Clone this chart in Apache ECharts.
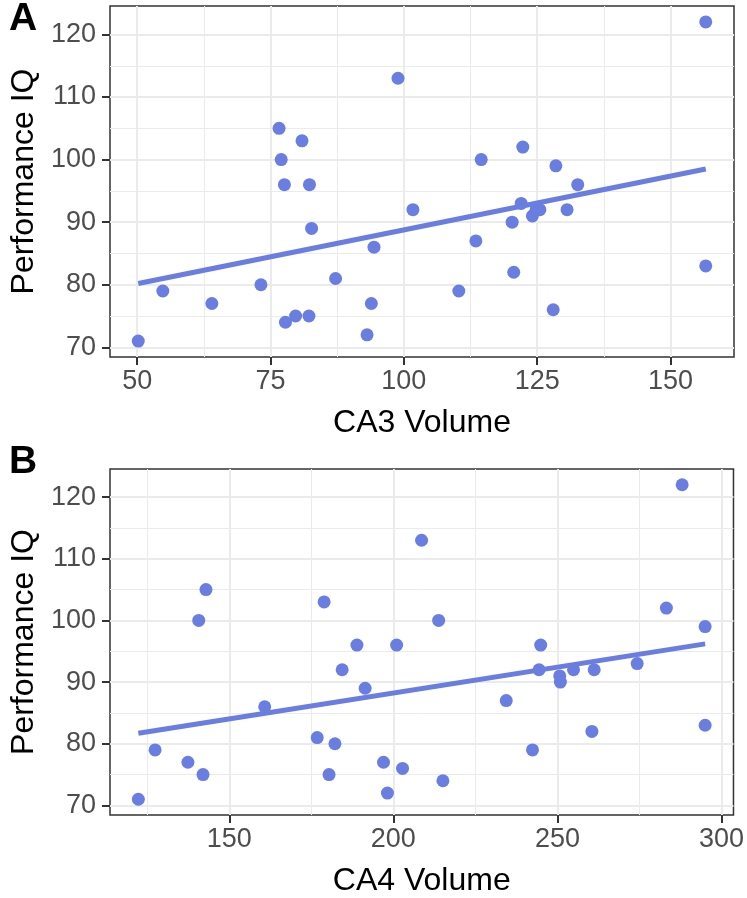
<!DOCTYPE html>
<html>
<head>
<meta charset="utf-8">
<script src="https://cdn.jsdelivr.net/npm/echarts@6/dist/echarts.min.js"></script>
<style>
  html, body { margin: 0; padding: 0; background: #fff; }
  #chart { width: 747px; height: 898px; }
</style>
</head>
<body>
<div id="chart"></div>
<script>
// panel A: CA3 volume vs performance IQ
const ca3 = [50.2, 54.8, 64.0, 73.2, 76.6, 77.0, 77.6, 80.9, 82.3, 82.7, 77.8, 79.7, 82.2, 87.2, 94.4, 93.9, 93.1,
  98.9, 101.7, 110.3, 113.5, 114.5, 122.3, 122.0, 120.3, 120.6, 124.1, 125.5, 124.8, 128.5, 128.0, 130.6, 132.6, 156.6, 156.6]
const piqA = [71, 79, 77, 80, 105, 100, 96, 103, 96, 89, 74, 75, 75, 81, 86, 77, 72,
  113, 92, 79, 87, 100, 102, 93, 90, 82, 91, 92, 92, 99, 76, 92, 96, 122, 83]
// panel B: CA4 volume vs performance IQ
const ca4 = [122.3, 127.4, 137.4, 142.0, 140.7, 142.9, 160.8, 176.8, 182.2, 180.4, 178.9, 188.9, 184.4, 191.4,
  197.0, 198.2, 202.8, 201.0, 208.6, 213.8, 215.1, 234.4, 242.4, 244.9, 244.4, 250.7, 250.9, 254.9, 261.2, 260.5,
  274.3, 283.2, 288.0, 295.0, 295.0]
const piqB = [71, 79, 77, 75, 100, 105, 86, 81, 80, 75, 103, 96, 92, 89,
  77, 72, 76, 96, 113, 100, 74, 87, 79, 96, 92, 91, 90, 92, 92, 82,
  93, 102, 122, 99, 83]
// fitted lines (end points)
const fitXA = [50.2, 156.6]
const fitYA = [80.2, 98.5]
const fitXB = [122.3, 295.0]
const fitYB = [81.7, 96.2]

// tick labels
const xTicksA = [50, 75, 100, 125, 150]
const xMinorA = [62.5, 87.5, 112.5, 137.5]
const xTicksB = [150, 200, 250, 300]
const xMinorB = [125, 175, 225, 275]
const yTicks = [70, 80, 90, 100, 110, 120]
const yMinor = [75, 85, 95, 105, 115]

const pointColor = '#6a7de1'
const font = '"Liberation Sans", Arial, Helvetica, sans-serif'

function zip(xs, ys) {
  return xs.map((x, i) => [x, ys[i]])
}

function majorAxis(gridIndex, min, max, ticks, name, isY) {
  return {
    type: 'value',
    gridIndex,
    min,
    max,
    name,
    nameLocation: 'middle',
    nameGap: isY ? 70 : 50,
    nameTextStyle: { fontFamily: font, fontSize: 32, color: '#000' },
    axisLine: { show: false },
    axisTick: {
      show: true,
      length: 8,
      customValues: ticks,
      lineStyle: { color: '#333', width: 2 }
    },
    axisLabel: {
      customValues: ticks,
      margin: isY ? 14 : 11,
      fontFamily: font,
      fontSize: 27,
      color: '#4d4d4d'
    },
    splitLine: { show: true, lineStyle: { color: '#ebebeb', width: 2 } }
  }
}

function minorAxis(gridIndex, min, max, ticks) {
  return {
    type: 'value',
    gridIndex,
    min,
    max,
    axisLine: { show: false },
    axisTick: { show: false, customValues: ticks },
    axisLabel: { show: false, customValues: ticks },
    splitLine: { show: true, lineStyle: { color: '#ebebeb', width: 1 } }
  }
}

const myChart = echarts.init(document.getElementById('chart'), null, { renderer: 'canvas' })
myChart.setOption({
  animation: false,
  backgroundColor: '#fff',
  title: [
    { text: 'A', left: 4, top: -5, textStyle: { fontFamily: font, fontSize: 39, fontWeight: 'bold', color: '#000' } },
    { text: 'B', left: 4, top: 438, textStyle: { fontFamily: font, fontSize: 39, fontWeight: 'bold', color: '#000' } }
  ],
  grid: [
    { left: 107, top: 6, width: 627, height: 351, show: true, borderColor: '#333', borderWidth: 1.5, backgroundColor: 'transparent' },
    { left: 107, top: 469, width: 627, height: 351, show: true, borderColor: '#333', borderWidth: 1.5, backgroundColor: 'transparent' }
  ],
  xAxis: [
    majorAxis(0, 44.9, 161.9, xTicksA, 'CA3 Volume', false),
    minorAxis(0, 44.9, 161.9, xMinorA),
    majorAxis(1, 113.66, 303.64, xTicksB, 'CA4 Volume', false),
    minorAxis(1, 113.66, 303.64, xMinorB)
  ],
  yAxis: [
    majorAxis(0, 68.45, 124.55, yTicks, 'Performance IQ', true),
    minorAxis(0, 68.45, 124.55, yMinor),
    majorAxis(1, 68.45, 124.55, yTicks, 'Performance IQ', true),
    minorAxis(1, 68.45, 124.55, yMinor)
  ],
  series: [
    {
      type: 'scatter',
      xAxisIndex: 0,
      yAxisIndex: 0,
      symbolSize: 13,
      itemStyle: { color: pointColor, opacity: 1 },
      data: zip(ca3, piqA)
    },
    {
      type: 'line',
      xAxisIndex: 0,
      yAxisIndex: 0,
      symbol: 'none',
      lineStyle: { color: pointColor, width: 5 },
      data: zip(fitXA, fitYA)
    },
    {
      type: 'scatter',
      xAxisIndex: 2,
      yAxisIndex: 2,
      symbolSize: 13,
      itemStyle: { color: pointColor, opacity: 1 },
      data: zip(ca4, piqB)
    },
    {
      type: 'line',
      xAxisIndex: 2,
      yAxisIndex: 2,
      symbol: 'none',
      lineStyle: { color: pointColor, width: 5 },
      data: zip(fitXB, fitYB)
    }
  ]
})
window.addEventListener('resize', function() {
  myChart.resize()
})
</script>
</body>
</html>
